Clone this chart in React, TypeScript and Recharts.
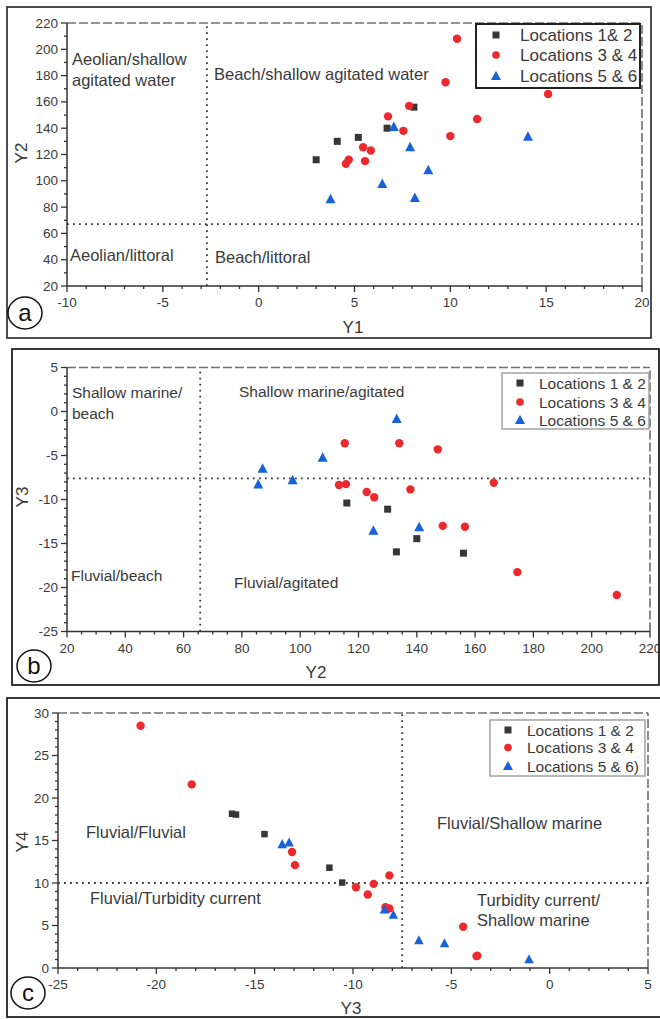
import React from 'react'
import { ScatterChart, Scatter, XAxis, YAxis, ReferenceLine, Legend } from 'recharts'

// ---- panel (a): Y1 vs Y2 ----
const a_loc12_y1 = [3.0, 4.1, 5.2, 6.7, 8.1]
const a_loc12_y2 = [116, 130, 133, 140, 156]
const a_loc34_y1 = [10.35, 9.75, 15.1, 7.85, 6.75, 11.4, 7.55, 10.0, 5.45, 5.85, 5.55, 4.55, 4.7]
const a_loc34_y2 = [208, 175, 166, 157, 149, 147, 138, 134, 125.5, 123, 115, 113, 116]
const a_loc56_y1 = [7.05, 7.9, 14.05, 8.85, 6.45, 8.15, 3.75]
const a_loc56_y2 = [141, 125.5, 133.5, 108, 97.5, 87, 86]

// ---- panel (b): Y2 vs Y3 ----
const b_loc12_y2 = [116, 130, 140, 133, 156]
const b_loc12_y3 = [-10.4, -11.1, -14.45, -15.95, -16.1]
const b_loc34_y2 = [115.3, 134, 147.2, 113.3, 115.7, 122.8, 125.4, 137.8, 166.4, 148.9, 156.5, 174.5, 208.6]
const b_loc34_y3 = [-3.6, -3.6, -4.3, -8.35, -8.25, -9.15, -9.75, -8.85, -8.1, -13.0, -13.1, -18.25, -20.85]
const b_loc56_y2 = [133.1, 107.7, 87.1, 97.4, 85.6, 125.1, 140.8]
const b_loc56_y3 = [-0.85, -5.25, -6.5, -7.8, -8.3, -13.55, -13.15]

// ---- panel (c): Y3 vs Y4 ----
const c_loc12_y3 = [-16.15, -15.95, -14.5, -11.2, -10.55]
const c_loc12_y4 = [18.15, 18.05, 15.75, 11.8, 10.05]
const c_loc34_y3 = [-20.8, -18.2, -13.1, -12.95, -8.15, -8.95, -9.85, -9.25, -8.35, -8.15, -4.4, -3.72, -3.68]
const c_loc34_y4 = [28.5, 21.6, 13.65, 12.1, 10.9, 9.9, 9.5, 8.65, 7.15, 7.0, 4.85, 1.4, 1.45]
const c_loc56_y3 = [-13.6, -13.25, -8.4, -7.95, -6.65, -5.35, -1.05]
const c_loc56_y4 = [14.55, 14.75, 6.85, 6.25, 3.25, 2.9, 1.0]

// axis ticks
const a_xMajor = [-10, -5, 0, 5, 10, 15, 20]
const a_yMajor = [20, 40, 60, 80, 100, 120, 140, 160, 180, 200, 220]
const b_xMajor = [20, 40, 60, 80, 100, 120, 140, 160, 180, 200, 220]
const b_yMajor = [-25, -20, -15, -10, -5, 0, 5]
const c_xMajor = [-25, -20, -15, -10, -5, 0, 5]
const c_yMajor = [0, 5, 10, 15, 20, 25, 30]

// thresholds separating the environments
const a_y1Cut = -2.7
const a_y2Cut = 67
const b_y2Cut = 65.7
const b_y3Cut = -7.6
const c_y3Cut = -7.5
const c_y4Cut = 10

const legendA = ['Locations 1& 2', 'Locations 3 & 4', 'Locations 5 & 6']
const legendB = ['Locations 1 & 2', 'Locations 3 & 4', 'Locations 5 & 6']
const legendC = ['Locations 1 & 2', 'Locations 3 & 4', 'Locations 5 & 6)']

const FONT = '"Liberation Sans", Arial, sans-serif'
const BLACK = '#363636'
const RED = '#ec2a2e'
const BLUE = '#1762d8'
const AXIS = '#333'
const TEXT = '#3a3a3a'

const zip = (xs: number[], ys: number[]) => xs.map((x, i) => ({ x, y: ys[i] }))
const range = (a: number, b: number, step: number) => {
  const out: number[] = []
  for (let v = a; v <= b + 1e-9; v += step) out.push(Math.round(v * 100) / 100)
  return out
}

function AxisTick(props: any) {
  const { x = 0, y = 0, payload, side, majors } = props
  const v = payload?.value
  const major = majors.includes(v)
  const len = major ? 6 : 3
  if (side === 'bottom') {
    return (
      <g>
        <line x1={x} y1={y} x2={x} y2={y + len} stroke={AXIS} strokeWidth={1.3} />
        {major && (
          <text x={x} y={y + 21} textAnchor="middle" fontSize={13.5} fill={TEXT} fontFamily={FONT}>
            {v}
          </text>
        )}
      </g>
    )
  }
  return (
    <g>
      <line x1={x} y1={y} x2={x - len} y2={y} stroke={AXIS} strokeWidth={1.3} />
      {major && (
        <text x={x - 9} y={y + 4.5} textAnchor="end" fontSize={13.5} fill={TEXT} fontFamily={FONT}>
          {v}
        </text>
      )}
    </g>
  )
}

const square = (s: number) => (p: any) => (
  <rect x={p.cx - s / 2} y={p.cy - s / 2} width={s} height={s} fill={BLACK} />
)
const dot = (r: number) => (p: any) => <circle cx={p.cx} cy={p.cy} r={r} fill={RED} />
const tri = (s: number) => (p: any) => (
  <polygon
    points={`${p.cx},${p.cy - s * 0.55} ${p.cx - s / 2},${p.cy + s * 0.4} ${p.cx + s / 2},${p.cy + s * 0.4}`}
    fill={BLUE}
  />
)

function LegendBox({ names, w, h, rowY, symX, textX, fontSize, border, borderWidth }: any) {
  return (
    <svg width={w} height={h} style={{ display: 'block', overflow: 'visible' }}>
      <rect x={1} y={1} width={w - 2} height={h - 2} fill="#fff" stroke={border} strokeWidth={borderWidth} />
      {names.map((n: string, i: number) => {
        const cy = rowY[i]
        return (
          <g key={n}>
            {i === 0 && <rect x={symX - 3.5} y={cy - 3.5} width={7} height={7} fill={BLACK} />}
            {i === 1 && <circle cx={symX} cy={cy} r={3.8} fill={RED} />}
            {i === 2 && (
              <polygon points={`${symX},${cy - 5} ${symX - 5},${cy + 4} ${symX + 5},${cy + 4}`} fill={BLUE} />
            )}
            <text x={textX} y={cy + fontSize * 0.36} fontSize={fontSize} fill={TEXT} fontFamily={FONT}>
              {n}
            </text>
          </g>
        )
      })}
    </svg>
  )
}

function Panel(props: any) {
  const {
    top, height, margin, axisW, axisH, xDomain, yDomain, xMajor, yMajor, xMinorStep, yMinorStep,
    xCut, yCut, s12, s34, s56, sizes, legend,
  } = props
  const xTicks = range(xDomain[0], xDomain[1], xMinorStep)
  const yTicks = range(yDomain[0], yDomain[1], yMinorStep)
  return (
    <div style={{ position: 'absolute', left: 0, top, width: 660, height }}>
      <ScatterChart width={660} height={height} margin={margin}>
        <XAxis
          type="number"
          dataKey="x"
          domain={xDomain}
          ticks={xTicks}
          interval={0}
          height={axisH}
          tickSize={0}
          tickMargin={0}
          tickLine={false}
          axisLine={{ stroke: AXIS, strokeWidth: 1.5 }}
          tick={<AxisTick side="bottom" majors={xMajor} />}
          allowDataOverflow
        />
        <YAxis
          type="number"
          dataKey="y"
          domain={yDomain}
          ticks={yTicks}
          interval={0}
          width={axisW}
          tickSize={0}
          tickMargin={0}
          tickLine={false}
          axisLine={{ stroke: AXIS, strokeWidth: 1.5 }}
          tick={<AxisTick side="left" majors={yMajor} />}
          allowDataOverflow
        />
        <ReferenceLine y={yDomain[1]} stroke="#6f6f6f" strokeWidth={1.6} strokeDasharray="9 3" />
        <ReferenceLine x={xDomain[1]} stroke="#6f6f6f" strokeWidth={1.6} strokeDasharray="9 3" />
        <ReferenceLine x={xCut} stroke="#3a3a3a" strokeWidth={1.8} strokeDasharray="1.8 4.2" />
        <ReferenceLine y={yCut} stroke="#3a3a3a" strokeWidth={1.8} strokeDasharray="1.8 4.2" />
        <Scatter name={legend.names[0]} data={s12} shape={square(sizes.sq)} isAnimationActive={false} />
        <Scatter name={legend.names[1]} data={s34} shape={dot(sizes.r)} isAnimationActive={false} />
        <Scatter name={legend.names[2]} data={s56} shape={tri(sizes.tri)} isAnimationActive={false} />
        <Legend
          layout="horizontal"
          verticalAlign="middle"
          align="center"
          wrapperStyle={{
            position: 'absolute',
            left: legend.left,
            top: legend.top,
            width: legend.w,
            height: legend.h,
            margin: 0,
            padding: 0,
          }}
          content={() => <LegendBox {...legend} />}
        />
      </ScatterChart>
    </div>
  )
}

function Overlay() {
  const t = (x: number, y: number, s: string, size = 16.5, anchor = 'start') => (
    <text x={x} y={y} fontSize={size} fill={TEXT} fontFamily={FONT} textAnchor={anchor}>
      {s}
    </text>
  )
  const rot = (x: number, y: number, s: string) => (
    <text x={x} y={y} fontSize={17} fill={TEXT} fontFamily={FONT} textAnchor="middle" transform={`rotate(-90 ${x} ${y})`} dy={6}>
      {s}
    </text>
  )
  const badge = (cx: number, cy: number, s: string) => (
    <g>
      <ellipse cx={cx} cy={cy} rx={17} ry={16} fill="none" stroke="#111" strokeWidth={1.5} />
      <text x={cx} y={cy + 8} fontSize={24} fill="#111" fontFamily={FONT} textAnchor="middle">
        {s}
      </text>
    </g>
  )
  return (
    <svg width={660} height={1019} style={{ position: 'absolute', left: 0, top: 0, pointerEvents: 'none' }}>
      <rect x={7} y={7} width={644} height={331} fill="none" stroke="#222" strokeWidth={1.6} />
      <rect x={12} y={349} width={647} height={336} fill="none" stroke="#222" strokeWidth={1.8} />
      <rect x={7} y={698} width={660} height={319} fill="none" stroke="#222" strokeWidth={1.8} />

      {t(72, 65, 'Aeolian/shallow')}
      {t(72, 86, 'agitated water')}
      {t(214, 80, 'Beach/shallow agitated water')}
      {t(70, 261, 'Aeolian/littoral')}
      {t(215, 263, 'Beach/littoral')}
      {t(353, 333, 'Y1', 17, 'middle')}
      {rot(21, 153, 'Y2')}
      {badge(25, 313, 'a')}

      {t(72, 398, 'Shallow marine/', 15.5)}
      {t(72, 419, 'beach', 15.5)}
      {t(239, 397, 'Shallow marine/agitated', 15.5)}
      {t(71, 581, 'Fluvial/beach', 15.5)}
      {t(234, 588, 'Fluvial/agitated', 15.5)}
      {t(316, 678, 'Y2', 17, 'middle')}
      {rot(22, 497, 'Y3')}
      {badge(34, 666, 'b')}

      {t(86, 838, 'Fluvial/Fluvial')}
      {t(437, 829, 'Fluvial/Shallow marine')}
      {t(90, 904, 'Fluvial/Turbidity current')}
      {t(477, 906, 'Turbidity current/')}
      {t(477, 926, 'Shallow marine')}
      {t(351, 1014, 'Y3', 17, 'middle')}
      {rot(22, 842, 'Y4')}
      {badge(28, 993, 'c')}
    </svg>
  )
}

export default function App() {
  return (
    <div style={{ position: 'absolute', left: 0, top: 0, width: 660, height: 1019, background: '#fff', overflow: 'hidden' }}>
      <Panel
        top={0}
        height={340}
        margin={{ top: 23, right: 18, bottom: 0, left: 0 }}
        axisW={67}
        axisH={54}
        xDomain={[-10, 20]}
        yDomain={[20, 220]}
        xMajor={a_xMajor}
        yMajor={a_yMajor}
        xMinorStep={1}
        yMinorStep={10}
        xCut={a_y1Cut}
        yCut={a_y2Cut}
        s12={zip(a_loc12_y1, a_loc12_y2)}
        s34={zip(a_loc34_y1, a_loc34_y2)}
        s56={zip(a_loc56_y1, a_loc56_y2)}
        sizes={{ sq: 7, r: 4.2, tri: 10 }}
        legend={{
          names: legendA, left: 475, top: 23, w: 166, h: 66, rowY: [12, 32, 53], symX: 21, textX: 45,
          fontSize: 17, border: '#222', borderWidth: 2,
        }}
      />
      <Panel
        top={340}
        height={345}
        margin={{ top: 27.5, right: 10, bottom: 0, left: 0 }}
        axisW={67}
        axisH={53.5}
        xDomain={[20, 220]}
        yDomain={[-25, 5]}
        xMajor={b_xMajor}
        yMajor={b_yMajor}
        xMinorStep={5}
        yMinorStep={1}
        xCut={b_y2Cut}
        yCut={b_y3Cut}
        s12={zip(b_loc12_y2, b_loc12_y3)}
        s34={zip(b_loc34_y2, b_loc34_y3)}
        s56={zip(b_loc56_y2, b_loc56_y3)}
        sizes={{ sq: 7, r: 4.2, tri: 10 }}
        legend={{
          names: legendB, left: 501, top: 32, w: 149, h: 58, rowY: [11, 30, 48], symX: 19, textX: 38,
          fontSize: 15.5, border: '#9a9a9a', borderWidth: 1.4,
        }}
      />
      <Panel
        top={685}
        height={334}
        margin={{ top: 28, right: 12, bottom: 0, left: 0 }}
        axisW={58}
        axisH={51}
        xDomain={[-25, 5]}
        yDomain={[0, 30]}
        xMajor={c_xMajor}
        yMajor={c_yMajor}
        xMinorStep={1}
        yMinorStep={1}
        xCut={c_y3Cut}
        yCut={c_y4Cut}
        s12={zip(c_loc12_y3, c_loc12_y4)}
        s34={zip(c_loc34_y3, c_loc34_y4)}
        s56={zip(c_loc56_y3, c_loc56_y4)}
        sizes={{ sq: 6.5, r: 4.2, tri: 9.5 }}
        legend={{
          names: legendC, left: 489, top: 34, w: 157, h: 58, rowY: [11, 28.5, 47], symX: 19, textX: 38,
          fontSize: 15.5, border: '#9a9a9a', borderWidth: 1.4,
        }}
      />
      <Overlay />
    </div>
  )
}
